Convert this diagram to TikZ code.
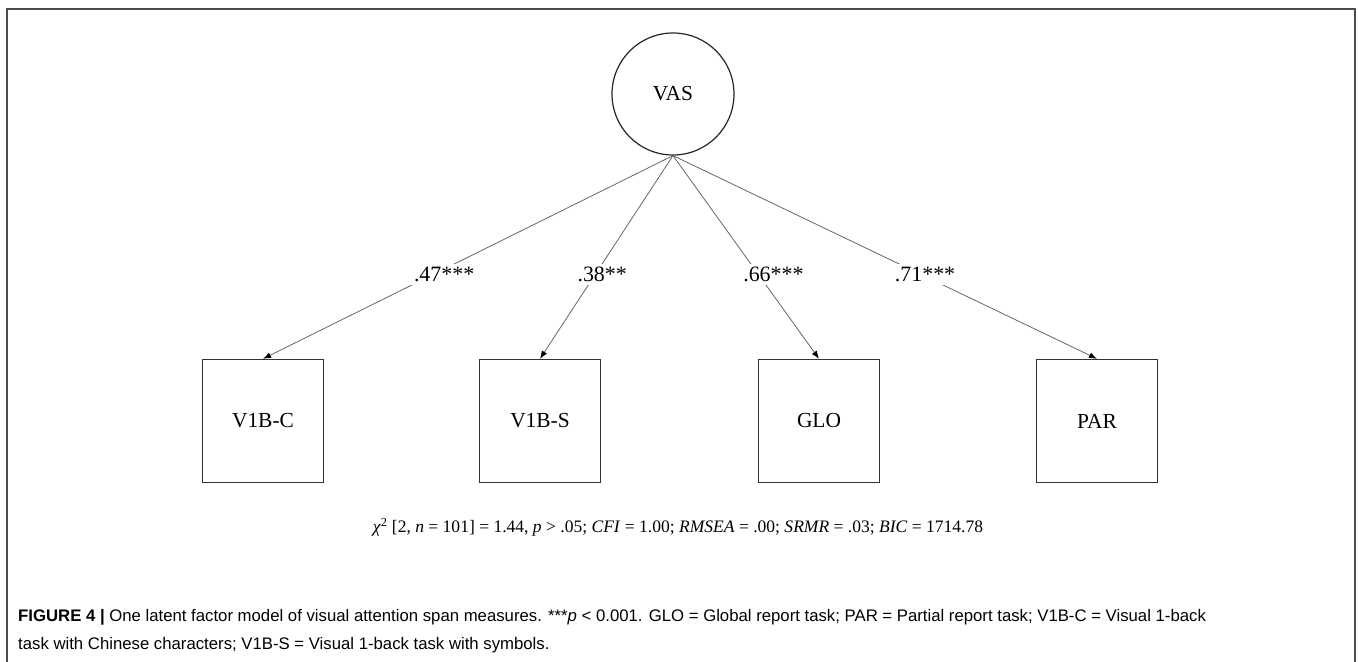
\documentclass[tikz,border=0pt]{standalone}
\usepackage{fontspec}
\setmainfont{Liberation Serif}
\newfontfamily\capfont{Liberation Sans}
\usetikzlibrary{arrows.meta}
\begin{document}
\begin{tikzpicture}[x=1bp,y=-1bp,
  latent/.style={circle,draw=black!85,line width=1.2bp,minimum size=122bp,inner sep=0pt,font=\fontsize{21.5}{25}\selectfont},
  manifest/.style={rectangle,draw=black!80,line width=1.4bp,minimum width=121bp,minimum height=123bp,inner sep=0pt,font=\fontsize{21.5}{25}\selectfont},
  loading/.style={draw=black!60,line width=0.8bp,-{Latex[length=8bp,width=6bp,color=black]}},
  coef/.style={fill=white,inner sep=3bp,font=\fontsize{22}{26}\selectfont,pos=0.585},
  framebox/.style={draw=black!70,line width=1.6bp},
  fitstat/.style={font=\fontsize{17.6}{21}\selectfont},
  captext/.style={anchor=base west,inner sep=0pt,font=\capfont\fontsize{16.8}{20}\selectfont}]
\useasboundingbox (0,0) rectangle (1358,662);
\draw[framebox] (7,662) -- (7,9) -- (1355,9) -- (1355,662);

\node[latent] (vas) at (673,94) {VAS};
\node[manifest] (v1bc) at (263,421) {V1B-C};
\node[manifest] (v1bs) at (540,421) {V1B-S};
\node[manifest] (glo) at (819,421) {GLO};
\node[manifest] (par) at (1097,421) {PAR};

\draw[loading] (vas.south) -- node[coef,xshift=11bp] {.47***} (v1bc.north);
\draw[loading] (vas.south) -- node[coef,xshift=7bp] {.38**} (v1bs.north);
\draw[loading] (vas.south) -- node[coef,xshift=15bp] {.66***} (glo.north);
\draw[loading] (vas.south) -- node[coef,xshift=4bp] {.71***} (par.north);

\node[fitstat] (fit) at (678,527) {\textit{χ}\textsuperscript{2} [2, \textit{n} = 101] = 1.44, \textit{p} > .05; \textit{CFI} = 1.00; \textit{RMSEA} = .00; \textit{SRMR} = .03; \textit{BIC} = 1714.78};

\node[captext] (cap1) at (18,621) {\textbf{FIGURE 4 |} One latent factor model of visual attention span measures. ***\textit{p} < 0.001. GLO = Global report task; PAR = Partial report task; V1B-C = Visual 1-back};
\node[captext] (cap2) at (18,649) {task with Chinese characters; V1B-S = Visual 1-back task with symbols.};
\end{tikzpicture}
\end{document}
